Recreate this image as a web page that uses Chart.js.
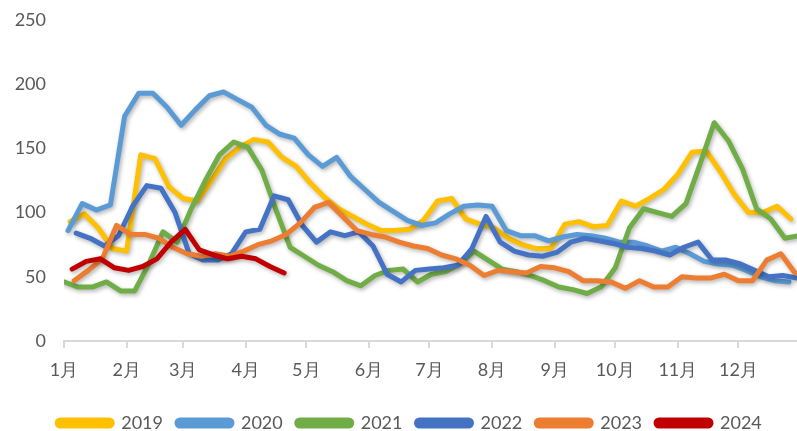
<!DOCTYPE html>
<html>
<head>
<meta charset="utf-8">
<script src="https://cdn.jsdelivr.net/npm/chart.js@4.4.1/dist/chart.umd.min.js"></script>
<style>
  html, body { margin: 0; padding: 0; background: #fff; }
  #wrap { width: 797px; height: 431px; overflow: hidden; }
  #box { width: 797px; height: 442px; }
</style>
</head>
<body>
<div id="wrap"><div id="box"><canvas id="chart"></canvas></div></div>
<script>
// weekly series, first point = day-of-year of first weekly report
const years = ['2019', '2020', '2021', '2022', '2023', '2024'];
const colors = ['#FFC000', '#5B9BD5', '#70AD47', '#4472C4', '#ED7D31', '#C00000'];
const startDays = [3, 2, 0, 6, 5, 4];

const v2019 = [93, 99, 88, 72, 70, 145, 142, 120, 111, 109, 125, 142, 151, 157, 155, 143, 136, 123, 112, 103,
  97, 91, 86, 86, 87, 94, 109, 111, 95, 91, 88, 80, 75, 72, 72, 91, 93, 89, 90, 109,
  105, 111, 118, 130, 147, 148, 132, 114, 100, 100, 105, 95];
const v2020 = [86, 107, 102, 106, 175, 193, 193, 182, 168, 180, 191, 194, 188, 182, 168, 161, 158, 145, 136, 143,
  128, 118, 108, 101, 94, 90, 92, 99, 105, 106, 105, 86, 82, 82, 78, 81, 83, 82, 80, 77,
  77, 74, 70, 73, 68, 62, 60, 59, 55, 50, 47, 46];
const v2021 = [46, 42, 42, 46, 39, 39, 60, 85, 77, 103, 125, 145, 155, 151, 133, 102, 73, 66, 59, 54,
  47, 43, 51, 55, 56, 46, 52, 54, 60, 70, 63, 56, 54, 51, 47, 42, 40, 37, 42, 57,
  88, 103, 100, 97, 107, 138, 170, 156, 134, 103, 95, 80, 82];
const v2022 = [84, 80, 74, 82, 105, 121, 119, 100, 68, 63, 63, 68, 85, 87, 113, 110, 90, 77, 85, 82,
  85, 74, 52, 46, 55, 56, 57, 59, 72, 97, 77, 70, 67, 66, 69, 77, 80, 78, 76, 73,
  72, 70, 67, 73, 77, 63, 63, 60, 55, 50, 51, 49];
const v2023 = [47, 55, 64, 90, 83, 83, 80, 73, 68, 66, 68, 66, 70, 75, 78, 83, 92, 104, 108, 97,
  86, 83, 81, 77, 74, 72, 67, 64, 59, 51, 55, 54, 53, 58, 57, 54, 47, 47, 46, 41,
  47, 42, 42, 50, 49, 49, 52, 47, 47, 63, 68, 53];
const v2024 = [56, 62, 64, 57, 55, 58, 64, 77, 87, 71, 67, 64, 66, 64, 58, 53];

const monthStarts = [0, 31, 59, 90, 120, 151, 181, 212, 243, 273, 304, 334];
const monthLabels = ['1月', '2月', '3月', '4月', '5月', '6月', '7月', '8月', '9月', '10月', '11月', '12月'];
const yTicks = [0, 50, 100, 150, 200, 250];

const seriesValues = [v2019, v2020, v2021, v2022, v2023, v2024];
const FONT = 'Lato, "Open Sans", sans-serif';
const GREY = '#595959';

// soft drop shadow under the lines, like the office chart
const lineShadow = {
  id: 'lineShadow',
  beforeDatasetsDraw(chart) {
    const ctx = chart.ctx;
    ctx.save();
    ctx.shadowColor = 'rgba(0,0,0,0.3)';
    ctx.shadowBlur = 4;
    ctx.shadowOffsetX = 1.5;
    ctx.shadowOffsetY = 2;
  },
  afterDatasetsDraw(chart) {
    chart.ctx.restore();
  }
};

// legend row sits a little right of the canvas centre
const legendNudge = {
  id: 'legendNudge',
  afterLayout(chart) {
    chart.legend.left += 22;
  }
};

const datasets = years.map((y, i) => ({
  label: y,
  data: seriesValues[i].map((v, k) => ({ x: startDays[i] + 7 * k, y: v })),
  borderColor: colors[i],
  backgroundColor: colors[i],
  borderWidth: 5,
  borderJoinStyle: 'round',
  borderCapStyle: 'round',
  pointRadius: 0,
  tension: 0,
  fill: false,
  order: years.length - i
}));

new Chart(document.getElementById('chart'), {
  type: 'line',
  data: { datasets },
  plugins: [lineShadow, legendNudge],
  options: {
    responsive: true,
    maintainAspectRatio: false,
    animation: false,
    devicePixelRatio: 1,
    layout: { padding: { top: 20, right: 0, bottom: 0, left: 0 } },
    plugins: {
      tooltip: { enabled: false },
      legend: {
        position: 'bottom',
        labels: {
          color: GREY,
          font: { family: FONT, size: 18 },
          boxWidth: 55,
          boxHeight: 6,
          useBorderRadius: true,
          borderRadius: 3,
          padding: 14,
          sort: (a, b) => a.datasetIndex - b.datasetIndex
        }
      }
    },
    scales: {
      x: {
        type: 'linear',
        min: 0,
        max: 363,
        afterBuildTicks: s => { s.ticks = monthStarts.map(v => ({ value: v })); },
        afterFit: s => { s.height = 59; },
        ticks: {
          autoSkip: false,
          maxRotation: 0,
          color: GREY,
          font: { family: FONT, size: 18 },
          padding: 11,
          callback: v => monthLabels[monthStarts.indexOf(v)]
        },
        grid: { drawOnChartArea: false, drawTicks: true, tickLength: 7, color: '#D9D9D9', lineWidth: 2 },
        border: { display: true, color: '#D9D9D9', width: 2 }
      },
      y: {
        min: 0,
        max: 250,
        afterBuildTicks: s => { s.ticks = yTicks.map(v => ({ value: v })); },
        afterFit: s => { s.width = 64; s.paddingTop = 11; s.paddingBottom = 11; },
        ticks: { color: GREY, font: { family: FONT, size: 18 }, padding: 18 },
        grid: { display: false, drawTicks: false },
        border: { display: false }
      }
    }
  }
});
</script>
</body>
</html>
